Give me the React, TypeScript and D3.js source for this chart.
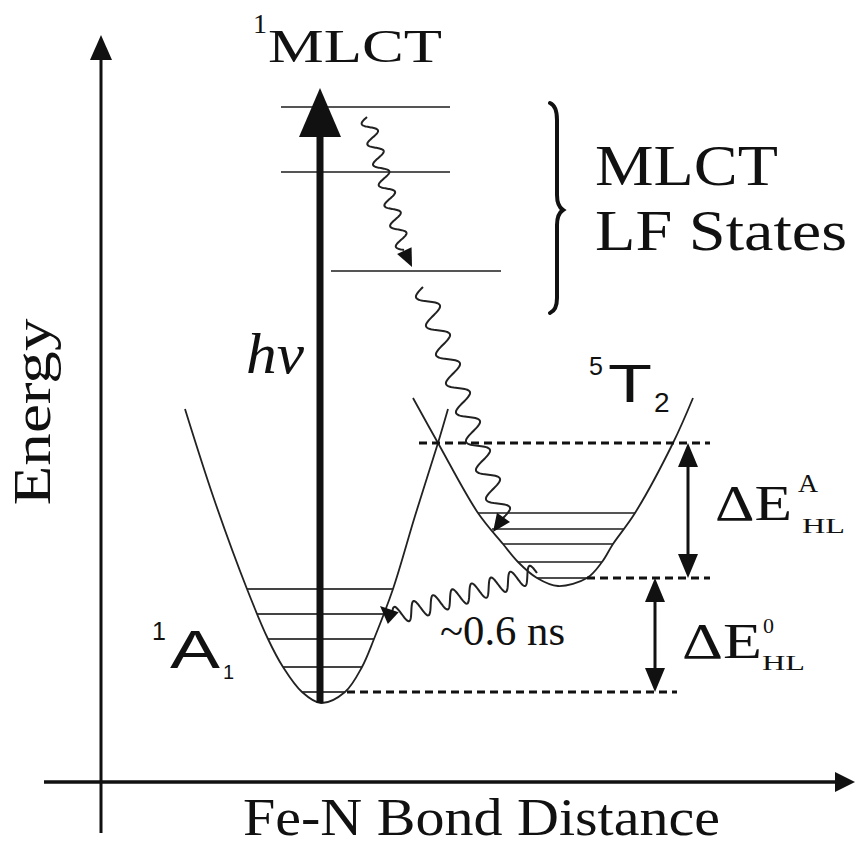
import React from "react";
import * as d3 from "d3";

const W = 858;
const H = 846;
const SERIF = "'Liberation Serif', 'Times New Roman', serif";
const SANS = "'Liberation Sans', Arial, sans-serif";

// ground state 1A1 well (bond distance u, energy v)
const groundWellU = [10.5, 14.125, 18.25, 20.875, 22.75, 25.125, 27.5, 30.5, 32.625, 34.125, 36.5, 39.25, 42.125, 43.375];
const groundWellV = [46.625, 35.375, 24.125, 17.875, 14.375, 11.25, 9.875, 11.25, 14.375, 17.875, 24.125, 33.25, 42.375, 46.625];

// high spin 5T2 well
const hsWellU = [39, 42.125, 47.125, 50.25, 52.125, 54.5, 57.125, 60.75, 62.625, 64, 66.75, 71.5, 74];
const hsWellV = [48, 42.375, 33.625, 29.75, 27.5, 25.5, 24.5, 25.5, 27.5, 29.75, 33.625, 42.375, 48];

// vibrational levels
const groundLevelV = [24.125, 21, 17.875, 14.375, 11.25];
const groundLevelU0 = [18.25, 19.5, 20.875, 22.75, 25.125];
const groundLevelU1 = [36.5, 35.25, 34.125, 32.625, 30.5];

const hsLevelV = [33.625, 31.625, 29.75, 27.5, 25.5];
const hsLevelU0 = [47.125, 48.875, 50.25, 52.125, 54.5];
const hsLevelU1 = [66.75, 65.375, 64, 62.625, 60.75];

// MLCT / LF states
const mlctLevelV = [84.375, 76.25, 63.875];
const mlctLevelU0 = [22.5, 22.5, 28.75];
const mlctLevelU1 = [43.625, 43.625, 50];

// dashed reference energies
const dashV = [42.375, 25.5, 11.25];
const dashU0 = [39.75, 60.75, 30.75];
const dashU1 = [76.125, 76.125, 72];

// energy gaps (double arrows)
const gapU = [73.375, 69.25];
const gapTop = [42.375, 25.5];
const gapBottom = [25.5, 11.25];

// excitation
const hvU = 27.375;
const hvFrom = 9.875;
const hvTo = 86.75;

// wavy relaxation arrows: start, end, tip, waves, amplitude(px)
const waveStart = [[33.25, 83.125], [40.25, 61.875], [54.5, 26.125]];
const waveEnd = [[37.875, 66.5], [50.25, 33], [36.375, 20.625]];
const waveTip = [[38.875, 64.375], [49, 31.25], [34.875, 22]];
const waveCount = [6.5, 8, 7.5];
const waveAmp = [7, 10, 9];

// labels
const labels = [
  { t: "1", u: 19, v: 93.625, size: 28, f: SERIF },
  { t: "MLCT", u: 20.875, v: 90, size: 46, f: SERIF, len: 174 },
  { t: "MLCT", u: 61.75, v: 74.625, size: 57, f: SERIF, len: 183 },
  { t: "LF States", u: 61.75, v: 66.5, size: 56, f: SERIF, len: 252 },
  { t: "hν", u: 18.125, v: 51.125, size: 56, f: SERIF, italic: true, len: 58 },
  { t: "5", u: 61, v: 50.875, size: 25, f: SANS },
  { t: "T", u: 63.375, v: 47.5, size: 54, f: SANS, len: 44 },
  { t: "2", u: 69.125, v: 46.25, size: 28, f: SANS },
  { t: "1", u: 6.375, v: 17.75, size: 25, f: SANS },
  { t: "A", u: 8.625, v: 14.25, size: 54, f: SANS, len: 50 },
  { t: "1", u: 15.25, v: 12.875, size: 20, f: SANS },
  { t: "ΔE", u: 76.75, v: 32.75, size: 50, f: SERIF, len: 77 },
  { t: "A", u: 87.125, v: 36.25, size: 26, f: SERIF, len: 20 },
  { t: "HL", u: 87.625, v: 31.125, size: 22, f: SERIF, len: 43 },
  { t: "ΔE", u: 72.625, v: 15.5, size: 50, f: SERIF, len: 80 },
  { t: "0", u: 82.75, v: 18.625, size: 22, f: SERIF },
  { t: "HL", u: 82.625, v: 14, size: 22, f: SERIF, len: 43 },
  { t: "~0.6 ns", u: 42.375, v: 17.125, size: 42, f: SERIF, len: 125 },
  { t: "Fe-N Bond Distance", u: 17.75, v: -6.6, size: 52, f: SERIF, len: 477 },
];

const x = d3.scaleLinear().domain([0, 100]).range([101, 901]);
const y = d3.scaleLinear().domain([0, 100]).range([782, -18]);

type P = [number, number];

function head(tip: P, from: P, len: number, hw: number) {
  const dx = tip[0] - from[0], dy = tip[1] - from[1];
  const d = Math.hypot(dx, dy);
  const ux = dx / d, uy = dy / d;
  const bx = tip[0] - ux * len, by = tip[1] - uy * len;
  return `${tip[0]},${tip[1]} ${bx - uy * hw},${by + ux * hw} ${bx + uy * hw},${by - ux * hw}`;
}

function wave(p0: P, p1: P, n: number, amp: number) {
  const dx = p1[0] - p0[0], dy = p1[1] - p0[1];
  const d = Math.hypot(dx, dy);
  const nx = -dy / d, ny = dx / d;
  const pts = d3.range(0, 301).map((i) => {
    const t = i / 300;
    const s = amp * Math.sin(2 * Math.PI * n * t);
    return [p0[0] + dx * t + nx * s, p0[1] + dy * t + ny * s] as P;
  });
  return d3.line()(pts) || "";
}

const well = d3
  .line<number>()
  .x((u) => x(u))
  .curve(d3.curveCatmullRom.alpha(0.5));

export default function App() {
  const groundPath = well.y((_, i) => y(groundWellV[i]))(groundWellU) || "";
  const hsPath = well.y((_, i) => y(hsWellV[i]))(hsWellU) || "";

  const x0 = x(0), y0 = y(0);
  const yTop = y(93.375), yBot = y(-6.375);
  const xLeft = x(-7.125), xRight = x(94.25);

  // brace
  const bx = x(57), btip = x(57.75), bt = y(84.875), bm = y(71.5), bb = y(58.625);
  const brace = `M${bx - 7},${bt} Q${bx},${bt + 3} ${bx},${bt + 17} L${bx},${bm - 15} Q${bx},${bm - 4} ${btip},${bm} Q${bx},${bm + 4} ${bx},${bm + 15} L${bx},${bb - 15} Q${bx},${bb - 3} ${bx - 7},${bb}`;

  const hvX = x(hvU);
  const hvTip = y(hvTo);

  return (
    <svg width={W} height={H} style={{ position: "absolute", left: 0, top: 0, background: "#fff" }}>
      {/* axes */}
      <line x1={x0} x2={x0} y1={yBot} y2={yTop + 20} stroke="#111" strokeWidth={3} />
      <polygon points={head([x0, yTop], [x0, yBot], 25, 11)} fill="#111" />
      <line x1={xLeft} x2={xRight - 16} y1={y0} y2={y0} stroke="#111" strokeWidth={3.5} />
      <polygon points={head([xRight, y0], [xLeft, y0], 20, 10)} fill="#111" />

      {/* MLCT levels */}
      {mlctLevelV.map((v, i) => (
        <line key={"m" + i} x1={x(mlctLevelU0[i])} x2={x(mlctLevelU1[i])} y1={y(v)} y2={y(v)} stroke="#555" strokeWidth={2} />
      ))}

      {/* vibrational levels */}
      {groundLevelV.map((v, i) => (
        <line key={"g" + i} x1={x(groundLevelU0[i])} x2={x(groundLevelU1[i])} y1={y(v)} y2={y(v)} stroke="#444" strokeWidth={2} />
      ))}
      {hsLevelV.map((v, i) => (
        <line key={"h" + i} x1={x(hsLevelU0[i])} x2={x(hsLevelU1[i])} y1={y(v)} y2={y(v)} stroke={i === 4 ? "#111" : "#555"} strokeWidth={i === 4 ? 1.5 : 2} />
      ))}

      {/* wells */}
      <path d={groundPath} fill="none" stroke="#222" strokeWidth={1.8} />
      <path d={hsPath} fill="none" stroke="#222" strokeWidth={1.8} />

      {/* dashed energies */}
      {dashV.map((v, i) => (
        <line key={"d" + i} x1={x(dashU0[i])} x2={x(dashU1[i])} y1={y(v)} y2={y(v)} stroke="#111" strokeWidth={3} strokeDasharray="8 5" />
      ))}

      {/* gap arrows */}
      {gapU.map((u, i) => {
        const gx = x(u), t = y(gapTop[i]), b = y(gapBottom[i]);
        return (
          <g key={"a" + i}>
            <line x1={gx} x2={gx} y1={t + 20} y2={b - 20} stroke="#111" strokeWidth={3} />
            <polygon points={head([gx, t], [gx, b], 24, 10)} fill="#111" />
            <polygon points={head([gx, b], [gx, t], 24, 10)} fill="#111" />
          </g>
        );
      })}

      {/* excitation arrow */}
      <line x1={hvX} x2={hvX} y1={y(hvFrom)} y2={hvTip + 45} stroke="#111" strokeWidth={7} />
      <polygon points={head([hvX, hvTip], [hvX, y(hvFrom)], 49, 21)} fill="#111" />

      {/* wavy arrows */}
      {waveStart.map((s, i) => {
        const p0: P = [x(s[0]), y(s[1])];
        const p1: P = [x(waveEnd[i][0]), y(waveEnd[i][1])];
        const tip: P = [x(waveTip[i][0]), y(waveTip[i][1])];
        return (
          <g key={"w" + i}>
            <path d={wave(p0, p1, waveCount[i], waveAmp[i])} fill="none" stroke="#222" strokeWidth={2} />
            <polygon points={head(tip, p1, 18, 8)} fill="#111" />
          </g>
        );
      })}

      {/* brace */}
      <path d={brace} fill="none" stroke="#111" strokeWidth={4} strokeLinecap="round" />

      {/* labels */}
      {labels.map((l, i) => (
        <text
          key={"l" + i}
          x={x(l.u)}
          y={y(l.v)}
          fontFamily={l.f}
          fontSize={l.size}
          fontStyle={l.italic ? "italic" : "normal"}
          fill="#111"
          {...(l.len ? { textLength: l.len, lengthAdjust: "spacingAndGlyphs" } : {})}
        >
          {l.t}
        </text>
      ))}
      <text
        x={x(-6.375)}
        y={y(46.25)}
        transform={`rotate(-90, ${x(-6.375)}, ${y(46.25)})`}
        textAnchor="middle"
        fontFamily={SERIF}
        fontSize={53}
        fill="#111"
        textLength={187}
        lengthAdjust="spacingAndGlyphs"
      >
        Energy
      </text>
    </svg>
  );
}
